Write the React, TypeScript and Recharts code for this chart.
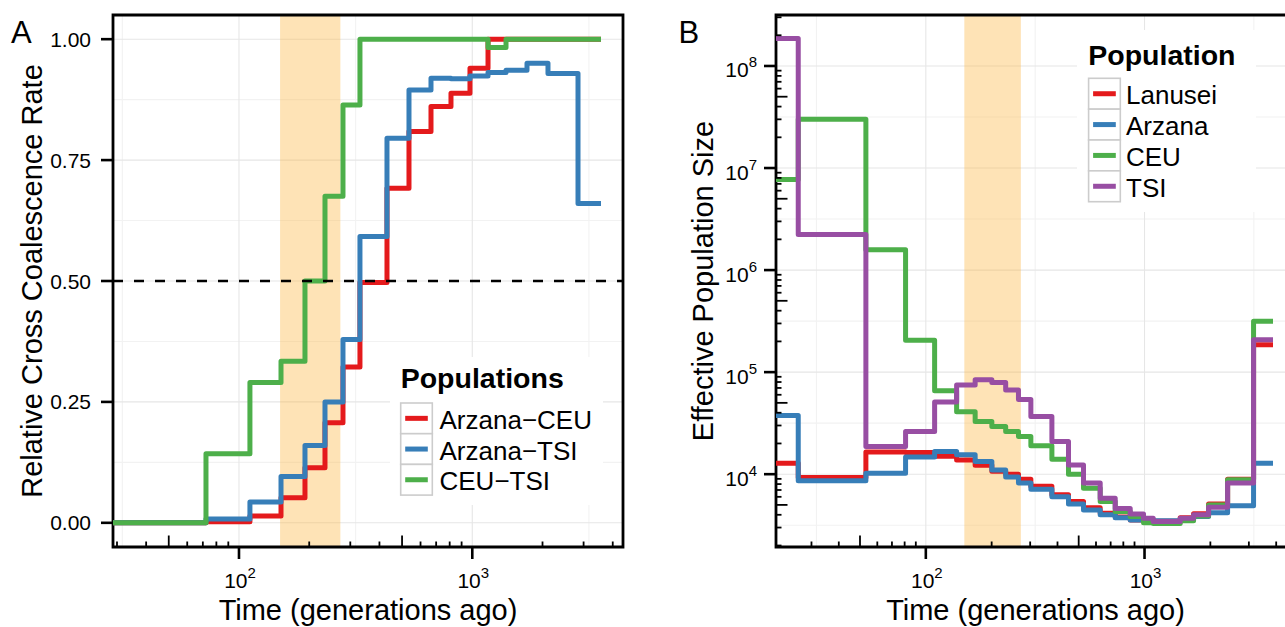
import React from 'react';
import {
  LineChart,
  Line,
  XAxis,
  YAxis,
  CartesianGrid,
  ReferenceArea,
  ReferenceLine,
  Legend,
} from 'recharts';

const FONT = '"Liberation Sans", Arial, Helvetica, sans-serif';
const INK = '#000000';

// ---------------- Panel A: relative cross coalescence rate ----------------
const timesA = [28.84, 72.2, 111.4, 151.4, 191.8, 233.7, 279.1, 330, 430.9, 535.4, 665.3, 810.4, 977.5, 1168, 1395, 1716, 2111, 2839, 3562];
const arzanaCEU = [0, 0.002, 0.014, 0.052, 0.114, 0.207, 0.322, 0.497, 0.692, 0.809, 0.861, 0.888, 0.94, 1.0, 1.0, 1.0, 1.0, 1.0, 1.0];
const arzanaTSI = [0, 0.008, 0.043, 0.096, 0.16, 0.25, 0.379, 0.592, 0.795, 0.895, 0.919, 0.918, 0.924, 0.931, 0.936, 0.95, 0.929, 0.66, 0.66];
const ceuTSI = [0, 0.143, 0.29, 0.334, 0.5, 0.675, 0.864, 1.0, 1.0, 1.0, 1.0, 1.0, 1.0, 0.983, 1.0, 1.0, 1.0, 1.0, 1.0];
const ccrTicks = [0, 0.25, 0.5, 0.75, 1];
const ccrMinorGrid = [0.125, 0.375, 0.625, 0.875];
const ccrDomain: [number, number] = [-0.05, 1.05];
const timeDomainA: [number, number] = [28.84, 4426];
const halfLine = 0.5;

// ---------------- Panel B: effective population size ----------------
const timesB = [20.65, 26.1, 53.2, 80.8, 109.7, 138.3, 168.1, 200.4, 231.8, 265.2, 302.2, 377.1, 449.1, 526, 627.1, 734.5, 860.2, 989.6, 1096, 1456, 1676, 1963, 2398, 3152, 3868];
const lanusei = [12800, 9300, 16500, 16300, 15000, 13800, 12200, 10700, 10000, 8900, 7600, 6300, 5400, 4700, 4150, 3800, 3550, 3600, 3450, 3750, 4100, 5100, 8900, 186000, 186000];
const arzana = [37600, 8600, 10200, 14700, 16700, 15500, 13300, 11000, 9400, 8200, 7100, 6000, 5100, 4450, 4000, 3750, 3550, 3500, 3500, 3600, 3850, 4200, 4900, 12800, 12800];
const ceu = [7730000, 30000000, 1580000, 205000, 65600, 41000, 32800, 29300, 26200, 23400, 19000, 14000, 10000, 7300, 5400, 4300, 3840, 3350, 3280, 3500, 3900, 5000, 8800, 315000, 315000];
const tsi = [186000000, 2230000, 18700, 26200, 51000, 75000, 84000, 79000, 67000, 54000, 36700, 20900, 12300, 8200, 5800, 4600, 4070, 3700, 3430, 3700, 4000, 4740, 8200, 208000, 208000];
const neDomain: [number, number] = [1934, 315900000];
const timeDomainB: [number, number] = [20.65, 4876];
const neMajorTicks = [1e4, 1e5, 1e6, 1e7, 1e8];
const neMinorTicks = [
  2e3, 3e3, 4e3, 5e3, 6e3, 7e3, 8e3, 9e3,
  2e4, 3e4, 4e4, 5e4, 6e4, 7e4, 8e4, 9e4,
  2e5, 3e5, 4e5, 5e5, 6e5, 7e5, 8e5, 9e5,
  2e6, 3e6, 4e6, 5e6, 6e6, 7e6, 8e6, 9e6,
  2e7, 3e7, 4e7, 5e7, 6e7, 7e7, 8e7, 9e7,
  2e8, 3e8,
];
const neMinorGrid = [3162.3, 31623, 316228, 3162278, 31622777];

// ---------------- shared time axis ----------------
const timeMajorTicks = [100, 1000];
const timeMinorTicks = [30, 40, 50, 60, 70, 80, 90, 200, 300, 400, 500, 600, 700, 800, 900, 2000, 3000, 4000];
const timeMinorGrid = [31.623, 316.23, 3162.3];
const admixBand: [number, number] = [150, 272];

const seriesA = [
  { key: 'arzanaCEU', name: 'Arzana\u2212CEU', color: '#E41A1C', values: arzanaCEU },
  { key: 'arzanaTSI', name: 'Arzana\u2212TSI', color: '#377EB8', values: arzanaTSI },
  { key: 'ceuTSI', name: 'CEU\u2212TSI', color: '#4DAF4A', values: ceuTSI },
];
const seriesB = [
  { key: 'lanusei', name: 'Lanusei', color: '#E41A1C', values: lanusei },
  { key: 'arzana', name: 'Arzana', color: '#377EB8', values: arzana },
  { key: 'ceu', name: 'CEU', color: '#4DAF4A', values: ceu },
  { key: 'tsi', name: 'TSI', color: '#984EA3', values: tsi },
];

const rowsA = timesA.map((t, i) => {
  const r: Record<string, number> = { t };
  seriesA.forEach((s) => (r[s.key] = s.values[i]));
  return r;
});
const rowsB = timesB.map((t, i) => {
  const r: Record<string, number> = { t };
  seriesB.forEach((s) => (r[s.key] = s.values[i]));
  return r;
});

const byNum = (a: number, b: number) => a - b;

// ---------------- layout ----------------
const H = 627;
const TOP = 15;
const BOTTOM = 547;
const A_LEFT = 113;
const A_RIGHT = 623;
const A_W = 650;
const B_X = 650;
const B_LEFT = 776;
const B_RIGHT = 1295;
const B_W = 665;

function isDecade(v: number) {
  const l = Math.log10(v);
  return Math.abs(l - Math.round(l)) < 1e-6;
}
function isFive(v: number) {
  const m = v / Math.pow(10, Math.floor(Math.log10(v) + 1e-9));
  return Math.abs(m - 5) < 1e-6;
}

const LogXTick = (props: any) => {
  const { x, y, payload } = props;
  const v = Number(payload.value);
  if (isDecade(v)) {
    return (
      <g>
        <line x1={x} x2={x} y1={y} y2={y + 12} stroke={INK} strokeWidth={2.6} />
        <text x={x + 1} y={y + 41} textAnchor="middle" fontSize={21} fill={INK} fontFamily={FONT}>
          10
          <tspan dy={-10} fontSize={15}>
            {Math.round(Math.log10(v))}
          </tspan>
        </text>
      </g>
    );
  }
  const len = isFive(v) ? 11.5 : 5.5;
  return <line x1={x} x2={x} y1={y} y2={y - len} stroke={INK} strokeWidth={1.8} />;
};

const LogYTick = (props: any) => {
  const { x, y, payload } = props;
  const v = Number(payload.value);
  if (isDecade(v)) {
    return (
      <g>
        <line x1={x - 12} x2={x} y1={y} y2={y} stroke={INK} strokeWidth={2.6} />
        <text x={x - 19} y={y + 11.5} textAnchor="end" fontSize={21} fill={INK} fontFamily={FONT}>
          10
          <tspan dy={-10} fontSize={15}>
            {Math.round(Math.log10(v))}
          </tspan>
        </text>
      </g>
    );
  }
  const len = isFive(v) ? 11.5 : 5.5;
  return <line x1={x} x2={x + len} y1={y} y2={y} stroke={INK} strokeWidth={1.8} />;
};

const LinYTick = (props: any) => {
  const { x, y, payload } = props;
  return (
    <text x={x} y={y} dy="0.36em" textAnchor="end" fontSize={21} fill={INK} fontFamily={FONT}>
      {Number(payload.value).toFixed(2)}
    </text>
  );
};

type LegendSpec = {
  title: string;
  w: number;
  h: number;
  titleX: number;
  titleY: number;
  keyX: number;
  keyY: number;
  keyW: number;
  keyH: number;
  labelX: number;
};

function makeLegend(spec: LegendSpec, series: { key: string; name: string; color: string }[]) {
  return (props: any) => {
    const payload: any[] = (props && props.payload) || [];
    return (
      <svg width={spec.w} height={spec.h} style={{ display: 'block', fontFamily: FONT }}>
        <rect x={0} y={0} width={spec.w} height={spec.h} fill="#ffffff" />
        <text x={spec.titleX} y={spec.titleY} fontSize={28.5} fontWeight="bold" fill={INK}>
          {spec.title}
        </text>
        {series.map((s, i) => {
          const p = payload.find((it) => it.dataKey === s.key || it.value === s.name);
          const color = p && p.color ? p.color : s.color;
          const label = p && p.value ? p.value : s.name;
          const top = spec.keyY + i * spec.keyH;
          const cy = top + spec.keyH / 2;
          return (
            <g key={s.key}>
              <rect x={spec.keyX} y={top} width={spec.keyW} height={spec.keyH} fill="#ffffff" stroke="#cccccc" strokeWidth={1.6} />
              <line x1={spec.keyX + 4.5} x2={spec.keyX + spec.keyW - 4.5} y1={cy} y2={cy} stroke={color} strokeWidth={5} />
              <text x={spec.labelX} y={cy + 10.5} fontSize={26} fill={INK}>
                {label}
              </text>
            </g>
          );
        })}
      </svg>
    );
  };
}

const legendA = makeLegend(
  { title: 'Populations', w: 213, h: 148, titleX: 10.7, titleY: 30.5, keyX: 10.7, keyY: 46, keyW: 31.6, keyH: 30.7, labelX: 49.5 },
  seriesA
);
const legendB = makeLegend(
  { title: 'Population', w: 179, h: 182, titleX: 11.3, titleY: 35, keyX: 11.6, keyY: 48.3, keyW: 31.7, keyH: 30.85, labelX: 49 },
  seriesB
);

export default function App() {
  return (
    <div
      style={{
        position: 'absolute',
        left: 0,
        top: 0,
        width: 1285,
        height: H,
        overflow: 'hidden',
        background: '#ffffff',
        fontFamily: FONT,
      }}
    >
      {/* Panel A */}
      <div style={{ position: 'absolute', left: 0, top: 0 }}>
        <LineChart width={A_W} height={H} data={rowsA} margin={{ top: TOP, right: A_W - A_RIGHT, bottom: 0, left: 0 }}>
          <CartesianGrid horizontalValues={ccrMinorGrid} verticalValues={timeMinorGrid} stroke="#f2f2f2" strokeWidth={1.1} />
          <CartesianGrid horizontalValues={ccrTicks} verticalValues={timeMajorTicks} stroke="#e6e6e6" strokeWidth={1.1} />
          <XAxis
            dataKey="t"
            type="number"
            scale="log"
            domain={timeDomainA}
            allowDataOverflow
            ticks={[...timeMajorTicks, ...timeMinorTicks].sort(byNum)}
            interval={0}
            tickSize={0}
            tickMargin={0}
            tickLine={false}
            axisLine={false}
            tick={LogXTick}
            height={H - BOTTOM}
          />
          <YAxis
            type="number"
            domain={ccrDomain}
            allowDataOverflow
            ticks={ccrTicks}
            interval={0}
            tickSize={12}
            tickMargin={10}
            tickLine={{ stroke: INK, strokeWidth: 2.6 }}
            axisLine={false}
            tick={LinYTick}
            width={A_LEFT}
          />
          <ReferenceArea x1={admixBand[0]} x2={admixBand[1]} fill="#FCB848" fillOpacity={0.4} stroke="none" ifOverflow="visible" />
          {seriesA.map((s) => (
            <Line
              key={s.key}
              dataKey={s.key}
              name={s.name}
              type="stepAfter"
              stroke={s.color}
              strokeWidth={5}
              strokeLinejoin="round"
              dot={false}
              activeDot={false}
              isAnimationActive={false}
            />
          ))}
          <ReferenceLine y={halfLine} stroke={INK} strokeWidth={2.5} strokeDasharray="10 11" ifOverflow="visible" />
          <ReferenceArea
            x1={timeDomainA[0]}
            x2={timeDomainA[1]}
            y1={ccrDomain[0]}
            y2={ccrDomain[1]}
            fill="none"
            fillOpacity={0}
            stroke={INK}
            strokeWidth={2.8}
            ifOverflow="visible"
          />
          <Legend
            layout="vertical"
            align="center"
            verticalAlign="middle"
            wrapperStyle={{ left: 390, top: 357, width: 213, height: 148 }}
            content={legendA}
          />
        </LineChart>
      </div>

      {/* Panel B */}
      <div style={{ position: 'absolute', left: B_X, top: 0 }}>
        <LineChart width={B_W} height={H} data={rowsB} margin={{ top: TOP, right: B_W - (B_RIGHT - B_X), bottom: 0, left: 0 }}>
          <CartesianGrid horizontalValues={neMinorGrid} verticalValues={timeMinorGrid} stroke="#f2f2f2" strokeWidth={1.1} />
          <CartesianGrid horizontalValues={neMajorTicks} verticalValues={timeMajorTicks} stroke="#e6e6e6" strokeWidth={1.1} />
          <XAxis
            dataKey="t"
            type="number"
            scale="log"
            domain={timeDomainB}
            allowDataOverflow
            ticks={[...timeMajorTicks, ...timeMinorTicks].sort(byNum)}
            interval={0}
            tickSize={0}
            tickMargin={0}
            tickLine={false}
            axisLine={false}
            tick={LogXTick}
            height={H - BOTTOM}
          />
          <YAxis
            type="number"
            scale="log"
            domain={neDomain}
            allowDataOverflow
            ticks={[...neMajorTicks, ...neMinorTicks].sort(byNum)}
            interval={0}
            tickSize={0}
            tickMargin={0}
            tickLine={false}
            axisLine={false}
            tick={LogYTick}
            width={B_LEFT - B_X}
          />
          <ReferenceArea x1={admixBand[0]} x2={admixBand[1]} fill="#FCB848" fillOpacity={0.4} stroke="none" ifOverflow="visible" />
          {seriesB.map((s) => (
            <Line
              key={s.key}
              dataKey={s.key}
              name={s.name}
              type="stepAfter"
              stroke={s.color}
              strokeWidth={5}
              strokeLinejoin="round"
              dot={false}
              activeDot={false}
              isAnimationActive={false}
            />
          ))}
          <ReferenceArea
            x1={timeDomainB[0]}
            x2={timeDomainB[1]}
            y1={neDomain[0]}
            y2={neDomain[1]}
            fill="none"
            fillOpacity={0}
            stroke={INK}
            strokeWidth={2.8}
            ifOverflow="visible"
          />
          <Legend
            layout="vertical"
            align="center"
            verticalAlign="middle"
            wrapperStyle={{ left: 1076.7 - B_X, top: 30, width: 179, height: 182 }}
            content={legendB}
          />
        </LineChart>
      </div>

      {/* Panel letters and axis titles */}
      <svg
        width={1285}
        height={H}
        style={{ position: 'absolute', left: 0, top: 0, pointerEvents: 'none', fontFamily: FONT }}
      >
        <text x={11} y={43} fontSize={31} fill={INK}>
          A
        </text>
        <text x={678.5} y={43} fontSize={31} fill={INK}>
          B
        </text>
        <text x={(A_LEFT + A_RIGHT) / 2} y={620} textAnchor="middle" fontSize={29} fill={INK}>
          Time (generations ago)
        </text>
        <text x={(B_LEFT + B_RIGHT) / 2} y={620} textAnchor="middle" fontSize={29} fill={INK}>
          Time (generations ago)
        </text>
        <text transform={`translate(41.7, ${(TOP + BOTTOM) / 2}) rotate(-90)`} textAnchor="middle" fontSize={29} fill={INK}>
          Relative Cross Coalescence Rate
        </text>
        <text transform={`translate(713, ${(TOP + BOTTOM) / 2}) rotate(-90)`} textAnchor="middle" fontSize={29} fill={INK}>
          Effective Population Size
        </text>
      </svg>
    </div>
  );
}
